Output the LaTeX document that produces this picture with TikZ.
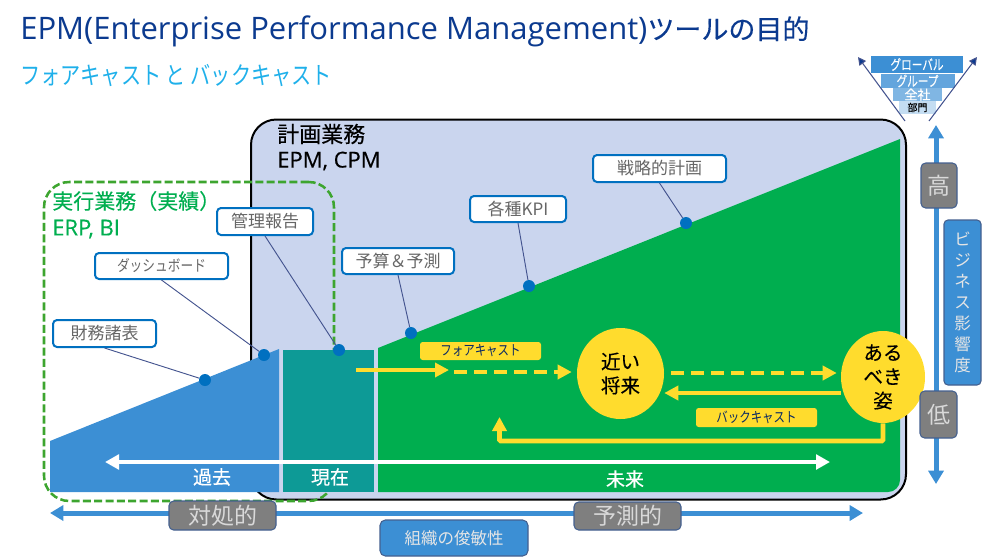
\documentclass[tikz,border=0pt]{standalone}
\usepackage{fontspec}
\setmainfont{Open Sans}
\newfontfamily\jp{Noto Sans CJK JP}
\newfontfamily\jpb[FakeBold=0.3]{Noto Sans CJK JP}
\newfontfamily\jpn[FakeStretch=0.82]{Noto Sans CJK JP}
\newfontfamily\jpnb[FakeStretch=0.76,FakeBold=0.3]{Noto Sans CJK JP}
\newfontfamily\lab[FakeBold=0.35]{Open Sans}
\usetikzlibrary{arrows.meta,shapes.geometric}
\definecolor{titleblue}{HTML}{0B3A8F}
\definecolor{subcyan}{HTML}{1FB0EA}
\definecolor{planbg}{HTML}{CAD5EE}
\definecolor{pastblue}{HTML}{3C8FD4}
\definecolor{teal1}{HTML}{0D9A96}
\definecolor{green1}{HTML}{00AE4F}
\definecolor{dashgreen}{HTML}{3DA52F}
\definecolor{yel}{HTML}{FFDC2D}
\definecolor{dot}{HTML}{0070C0}
\definecolor{leader}{HTML}{44548F}
\definecolor{greybox}{HTML}{7F7F7F}
\definecolor{greyline}{HTML}{44608F}
\newcommand{\px}[1]{\fontsize{\dimexpr#1pt*3/4\relax}{\dimexpr#1pt*98/100\relax}\selectfont}
\newcommand{\pxs}[2]{\fontsize{\dimexpr#1pt*3/4\relax}{\dimexpr#2pt*3/4\relax}\selectfont}
\tikzset{
  wh/.style 2 args={minimum width=#1*0.75pt, minimum height=#2*0.75pt, inner sep=0pt},
  callout/.style={draw=dot, line width=1.5pt, fill=white, rounded corners=3pt, text=black!60, font=\jp\px{17}},
  leaderline/.style={draw=leader, line width=0.7pt},
  dotnode/.style={circle, fill=dot, minimum size=9pt, inner sep=0pt},
  greytag/.style={draw=greyline, line width=0.8pt, fill=greybox, rounded corners=3.5pt, text=white!85!black, font=\jp\px{23}},
  bluetag/.style={draw=greyline, line width=0.8pt, fill=pastblue, rounded corners=4pt, text=white!90!black, font=\jp\px{16.5}},
  yeltag/.style={fill=yel, rounded corners=2pt, text=titleblue!70!black, font=\jpn\px{14}},
  yelarrow/.style={draw=yel, line width=3.6pt, -{Triangle[length=10.5pt,width=10.5pt]}},
  yeldash/.style={yelarrow, dash pattern=on 9.75pt off 5.25pt},
  whitearrow/.style={draw=white, line width=3.3pt, {Triangle[length=10.5pt,width=11pt]}-{Triangle[length=10.5pt,width=11pt]}},
  bluearrow/.style={draw=pastblue, line width=3.75pt, {Triangle[length=10pt,width=11.25pt]}-{Triangle[length=10pt,width=11.25pt]}},
  yelblob/.style={ellipse, fill=yel, text=black, align=center, inner sep=0pt, font=\jpb\pxs{19.5}{24}},
  tier/.style={text=white, font=\jpnb\px{14}, inner sep=0pt},
  band/.style={text=white, font=\jpb\px{19}, inner sep=0pt},
  pyrarrow/.style={draw=leader, line width=0.8pt, -{Triangle[length=6pt,width=6pt,fill=titleblue]}},
  hd/.style={anchor=west, inner sep=0pt},
}
\begin{document}
\begin{tikzpicture}[x=0.75pt,y=-0.75pt]
\useasboundingbox (0,0) rectangle (1000,558);
% titles
\node[hd,text=titleblue] (title) at (20,31) {\px{31}EPM(Enterprise Performance Management)\jpb\px{27}ツールの目的};
\node[hd,text=subcyan] (sub) at (20,76) {\jpn\px{24.6}フォアキャスト と バックキャスト};
% bottom arrow
\coordinate (bL) at (50,513); \coordinate (bR) at (863,513);
\draw[bluearrow] (bL) -- (bR);
% plan box
\node[draw=black, line width=1.5pt, fill=planbg, rounded corners=19pt, wh={655}{380}] (plan) at (578.5,309.5) {};
% dashed box
\node[draw=dashgreen, line width=1.9pt, dash pattern=on 6pt off 2.5pt, rounded corners=19pt, wh={290}{319}] (exec) at (189,341.5) {};
% areas
\fill[pastblue] (50,441) -- (279,349) -- (279,492) -- (50,492) -- cycle;
\fill[teal1] (283,350) rectangle (374,492);
\fill[green1] (378,348) -- (900,139) [rounded corners=9pt] -- (900,492) [sharp corners] -- (378,492) -- cycle;
% headings
\node[hd] (h1) at (277,134) {\jpb\px{22}計画業務};
\node[hd] (h2) at (277,161) {\lab\px{22}EPM, CPM};
\node[hd,text=green1] (h3) at (52,201) {\jpb\px{21}実行業務（実績）};
\node[hd,text=green1] (h4) at (52,229) {\lab\px{22}ERP, BI};
% dots
\node[dotnode] (d1) at (205,380) {};
\node[dotnode] (d2) at (264,355) {};
\node[dotnode] (d3) at (339,350) {};
\node[dotnode] (d4) at (411,333) {};
\node[dotnode] (d5) at (529,286) {};
\node[dotnode] (d6) at (686,223) {};
% callouts
\node[callout,wh={103}{27}] (c1) at (104.5,333.5) {財務諸表};
\node[callout,wh={133}{26},font=\jpn\px{15.5}] (c2) at (161.5,266) {ダッシュボード};
\node[callout,wh={96}{27}] (c3) at (265,221.5) {管理報告};
\node[callout,wh={112}{26}] (c4) at (398,261) {予算＆予測};
\node[callout,wh={96}{26}] (c5) at (518,209) {各種KPI};
\node[callout,wh={133}{27}] (c6) at (659.5,168.5) {戦略的計画};
\draw[leaderline] (c1.south) -- (d1);
\draw[leaderline] (c2.south) -- (d2);
\draw[leaderline] (c3.south) -- (d3);
\draw[leaderline] (c4.south) -- (d4);
\draw[leaderline] (c5.south) -- (d5);
\draw[leaderline] (c6.south) -- (d6);
% white arrow & labels
\coordinate (wL) at (105,462); \coordinate (wR) at (830,462);
\draw[whitearrow] (wL) -- (wR);
\node[band] (past) at (212,477) {過去};
\node[band] (now) at (330,477) {現在};
\node[band] (fut) at (625,479) {未来};
% ellipses
\node[yelblob, wh={87}{91}] (near) at (620.5,373.5) {近い\\将来};
\node[yelblob, wh={84}{92}] (goal) at (883,377) {ある\\べき\\姿};
% forecast arrows
\coordinate (s0) at (356,370); \coordinate (s1) at (449,370); \coordinate (s2) at (454,372);
\draw[yelarrow] (s0) -- (s1);
\draw[yeldash] (s2) -- ([xshift=-3.75pt]near.west |- 0,372);
\draw[yeldash] ([xshift=5.25pt]near.east |- 0,373) -- ([xshift=-3pt]goal.west |- 0,373);
\draw[yelarrow] (goal.west |- 0,393) -- (near.east |- 0,393);
\draw[yelarrow, rounded corners=1pt] (goal.south) -- (goal.south |- 0,441) -- (499.5,441) -- (499.5,417);
\node[yeltag,wh={121}{18}] (fc) at (480.5,351) {フォアキャスト};
\node[yeltag,wh={121}{19}] (bc) at (756.5,417.5) {バックキャスト};
% bottom tags
\node[greytag,wh={107}{29}] (t1) at (222.5,515.5) {対処的};
\node[greytag,wh={107}{28}] (t2) at (627.5,516) {予測的};
\node[bluetag,wh={148}{36}] (t3) at (454,538) {組織の俊敏性};
% right axis
\coordinate (vT) at (936,125); \coordinate (vB) at (936,484);
\draw[bluearrow] (vT) -- (vB);
\node[greytag,wh={36}{45}] (hi) at (939,185.5) {高};
\node[greytag,wh={37}{47}] (lo) at (938.5,414.5) {低};
\node[bluetag,wh={37}{165},align=center,font=\jp\pxs{16.5}{21},rounded corners=3pt] (biz) at (962.5,302.5) {ビ\\ジ\\ネ\\ス\\影\\響\\度};
% pyramid
\node[fill=pastblue,wh={92}{17},tier] (p1) at (917,64.5) {グローバル};
\node[fill=pastblue!80!white,wh={74}{14},tier] (p2) at (917.5,81) {グループ};
\node[fill=pastblue!65!white,wh={49}{13},tier,font=\jpb\px{13}] (p3) at (917.5,94.5) {全社};
\node[fill=pastblue!30!white,wh={37}{13},tier,text=black,font=\jpb\px{10}] (p4) at (917.5,107.5) {部門};
\coordinate (a1s) at (905,121); \coordinate (a1e) at (858,57);
\coordinate (a2s) at (929,121); \coordinate (a2e) at (977,57);
\draw[pyrarrow] (a1s) -- (a1e);
\draw[pyrarrow] (a2s) -- (a2e);
\end{tikzpicture}
\end{document}
